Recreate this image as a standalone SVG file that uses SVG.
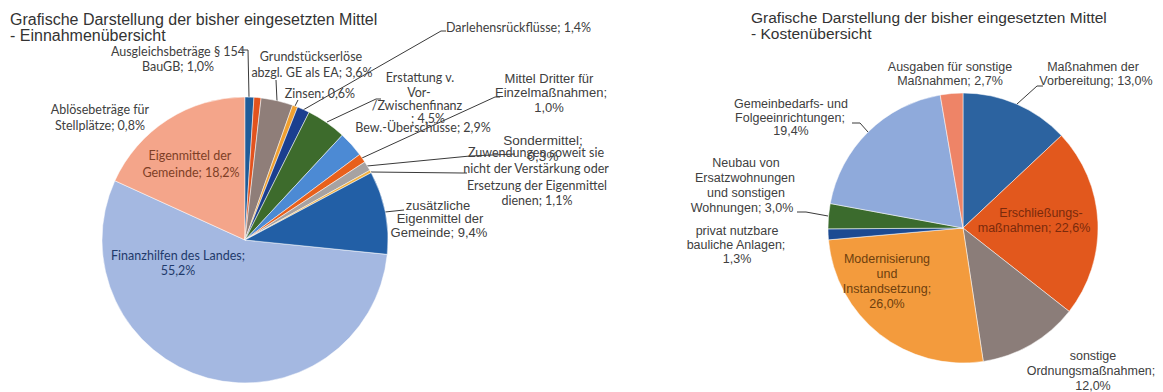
<svg xmlns="http://www.w3.org/2000/svg" width="1163" height="392" viewBox="0 0 1163 392">
<style>
.bg{fill:#fff}
.title{font-family:"Liberation Sans",Arial,sans-serif;fill:#333}
.c{font-family:Lato,"Open Sans",sans-serif;font-size:12.5px;fill:#404040;text-anchor:middle}
.a{font-family:"Liberation Sans",Arial,sans-serif;font-size:13px;fill:#404040;text-anchor:middle}
.r{font-family:"Liberation Sans",Arial,sans-serif;font-size:12.5px;fill:#404040;text-anchor:middle}
.sl{stroke:#fff;stroke-width:0.5;stroke-linejoin:round}
.ld{fill:none;stroke:#3a3a3a;stroke-width:1}
</style>
<rect class="bg" x="0" y="0" width="1163" height="392"/>
<g id="title-left">
<text class="title" x="10" y="25" font-size="16">Grafische Darstellung der bisher eingesetzten Mittel</text>
<text class="title" x="10" y="41" font-size="16">- Einnahmenübersicht</text>
</g>
<g id="title-right">
<text class="title" x="751" y="23" font-size="15.5">Grafische Darstellung der bisher eingesetzten Mittel</text>
<text class="title" x="751" y="39" font-size="15.5">- Kostenübersicht</text>
</g>

<g id="connectors">
<polyline class="ld" points="249,97 248,50 241,50"/>
<polyline class="ld" points="277,101 276,80"/>
<polyline class="ld" points="295,106 298,100"/>
<polyline class="ld" points="303,110 441,31 446,31"/>
<polyline class="ld" points="327,122 376,99 381,99"/>
<polyline class="ld" points="362,158 495,97 500,97"/>
<polyline class="ld" points="367,166 470,156 515,154"/>
<polyline class="ld" points="371,172 462,173 467,173"/>
<polyline class="ld" points="385,212 404,210"/>
<polyline class="ld" points="1017,104 1037,86 1043,86"/>
<polyline class="ld" points="868,132 860,123 852,123"/>
<polyline class="ld" points="828,216 806,212 797,212"/>
</g>

<g id="pie-left">
<g id="l-finanzhilfen">
<path class="sl" fill="#A4B8E1" d="M245,240 L387.28,254.36 A143,143 0 1 1 114.86,180.74 Z"/>
<text class="c" style="fill:#1F3A6B"><tspan x="178" y="260">Finanzhilfen des Landes;</tspan><tspan x="178" y="275">55,2%</tspan></text>
</g>
<g id="l-eigenmittel">
<path class="sl" fill="#F4A58A" d="M245,240 L114.86,180.74 A143,143 0 0 1 245,97 Z"/>
<text class="c" style="fill:#7E3F26"><tspan x="190" y="160">Eigenmittel der</tspan><tspan x="191" y="177">Gemeinde; 18,2%</tspan></text>
</g>
<g id="l-ausgleich">
<path class="sl" fill="#1F5C99" d="M245,240 L245,97 A143,143 0 0 1 253.98,97.29 Z"/>
<text class="c"><tspan x="178" y="56">Ausgleichsbeträge § 154</tspan><tspan x="178" y="71">BauGB; 1,0%</tspan></text>
</g>
<g id="l-abloese">
<path class="sl" fill="#E2531E" d="M245,240 L253.98,97.29 A143,143 0 0 1 261.14,97.92 Z"/>
<text class="c"><tspan x="100" y="114">Ablösebeträge für</tspan><tspan x="100" y="130">Stellplätze; 0,8%</tspan></text>
</g>
<g id="l-grundstueck">
<path class="sl" fill="#8F7E79" d="M245,240 L261.14,97.92 A143,143 0 0 1 292.59,105.15 Z"/>
<text class="c"><tspan x="311" y="61">Grundstückserlöse</tspan><tspan x="312" y="77">abzgl. GE als EA; 3,6%</tspan></text>
</g>
<g id="l-zinsen">
<path class="sl" fill="#F0A030" d="M245,240 L292.59,105.15 A143,143 0 0 1 297.64,107.04 Z"/>
<text class="c" x="320" y="98">Zinsen; 0,6%</text>
</g>
<g id="l-darlehen">
<path class="sl" fill="#1B3F8F" d="M245,240 L297.64,107.04 A143,143 0 0 1 309.12,112.19 Z"/>
<text class="c" x="446" y="32" style="text-anchor:start">Darlehensrückflüsse; 1,4%</text>
</g>
<g id="l-erstattung">
<path class="sl" fill="#3D6B2C" d="M245,240 L309.12,112.19 A143,143 0 0 1 342.25,135.17 Z"/>
<text class="c"><tspan x="420" y="82">Erstattung v.</tspan><tspan x="419" y="97">Vor-</tspan><tspan x="417" y="110">/Zwischenfinanz</tspan><tspan x="428" y="123">; 4,5%</tspan></text>
</g>
<g id="l-bew">
<path class="sl" fill="#4C8AD4" d="M245,240 L342.25,135.17 A143,143 0 0 1 359.63,154.51 Z"/>
<text class="c" x="423" y="132">Bew.-Überschüsse; 2,9%</text>
</g>
<g id="l-mitteldritter">
<path class="sl" fill="#E8601C" d="M245,240 L359.63,154.51 A143,143 0 0 1 364.79,161.91 Z"/>
<text class="a"><tspan x="549" y="83">Mittel Dritter für</tspan><tspan x="551" y="97">Einzelmaßnahmen;</tspan><tspan x="549" y="112">1,0%</tspan></text>
</g>
<g id="l-zuwendungen">
<path class="sl" fill="#A6A2A2" d="M245,240 L364.79,161.91 A143,143 0 0 1 369.87,170.32 Z"/>
<text class="c"><tspan x="536" y="157">Zuwendungen soweit sie</tspan><tspan x="536" y="173">nicht der Verstärkung oder</tspan><tspan x="537" y="190">Ersetzung der Eigenmittel</tspan><tspan x="537" y="205">dienen; 1,1%</tspan></text>
</g>
<g id="l-sondermittel">
<path class="sl" fill="#F1B040" d="M245,240 L369.87,170.32 A143,143 0 0 1 371.17,172.69 Z"/>
<text class="a" style="font-size:13.5px"><tspan x="543" y="145">Sondermittel;</tspan><tspan x="543" y="161">0,3%</tspan></text>
</g>
<g id="l-zusaetzlich">
<path class="sl" fill="#225FA6" d="M245,240 L371.17,172.69 A143,143 0 0 1 387.28,254.36 Z"/>
<text class="a"><tspan x="438" y="210">zusätzliche</tspan><tspan x="440" y="223">Eigenmittel der</tspan><tspan x="439" y="237">Gemeinde; 9,4%</tspan></text>
</g>
</g>

<g id="pie-right">
<g id="r-vorbereitung">
<path class="sl" fill="#2C63A0" d="M963,228 L963,93 A135,135 0 0 1 1061.42,135.59 Z"/>
<text class="r"><tspan x="1093" y="71">Maßnahmen der</tspan><tspan x="1096" y="85">Vorbereitung; 13,0%</tspan></text>
</g>
<g id="r-erschliessung">
<path class="sl" fill="#E2581D" d="M963,228 L1061.42,135.59 A135,135 0 0 1 1069.18,311.39 Z"/>
<text class="r" style="fill:#7A2A0C"><tspan x="1041" y="217">Erschließungs-</tspan><tspan x="1034" y="232">maßnahmen; 22,6%</tspan></text>
</g>
<g id="r-ordnung">
<path class="sl" fill="#8B7D79" d="M963,228 L1069.18,311.39 A135,135 0 0 1 983.28,361.47 Z"/>
<text class="r"><tspan x="1093" y="360">sonstige</tspan><tspan x="1091" y="375">Ordnungsmaßnahmen;</tspan><tspan x="1093" y="390">12,0%</tspan></text>
</g>
<g id="r-modernisierung">
<path class="sl" fill="#F39B3D" d="M963,228 L983.28,361.47 A135,135 0 0 1 828.52,239.86 Z"/>
<text class="r" style="fill:#6E3F0E"><tspan x="887" y="263">Modernisierung</tspan><tspan x="887" y="278">und</tspan><tspan x="887" y="293">Instandsetzung;</tspan><tspan x="887" y="308">26,0%</tspan></text>
</g>
<g id="r-privat">
<path class="sl" fill="#1C4A92" d="M963,228 L828.52,239.86 A135,135 0 0 1 828,228.85 Z"/>
<text class="r"><tspan x="737" y="235">privat nutzbare</tspan><tspan x="736" y="249">bauliche Anlagen;</tspan><tspan x="737" y="263">1,3%</tspan></text>
</g>
<g id="r-neubau">
<path class="sl" fill="#3B6B2D" d="M963,228 L828,228.85 A135,135 0 0 1 830.24,203.54 Z"/>
<text class="r"><tspan x="746" y="167">Neubau von</tspan><tspan x="745" y="182">Ersatzwohnungen</tspan><tspan x="746" y="197">und sonstigen</tspan><tspan x="742" y="212">Wohnungen; 3,0%</tspan></text>
</g>
<g id="r-gemeinbedarf">
<path class="sl" fill="#8FAADB" d="M963,228 L830.24,203.54 A135,135 0 0 1 940.2,94.94 Z"/>
<text class="r"><tspan x="791" y="108">Gemeinbedarfs- und</tspan><tspan x="790" y="122">Folgeeinrichtungen;</tspan><tspan x="791" y="135">19,4%</tspan></text>
</g>
<g id="r-ausgaben">
<path class="sl" fill="#EE8467" d="M963,228 L940.2,94.94 A135,135 0 0 1 963,93 Z"/>
<text class="r"><tspan x="950" y="71">Ausgaben für sonstige</tspan><tspan x="950" y="85">Maßnahmen; 2,7%</tspan></text>
</g>
</g>
</svg>
